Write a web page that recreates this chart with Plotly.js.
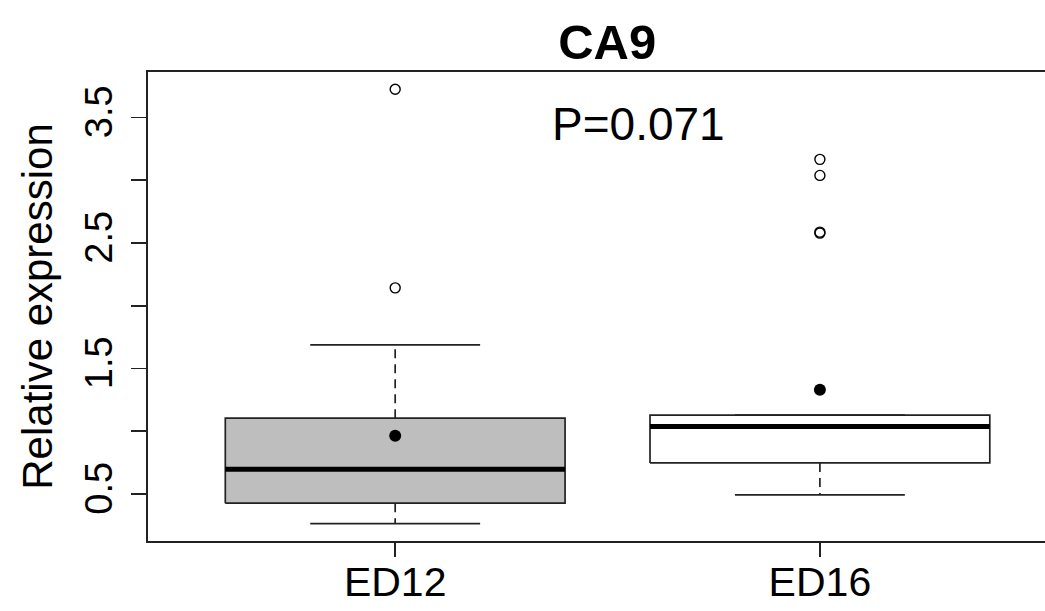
<!DOCTYPE html>
<html>
<head>
<meta charset="utf-8">
<script src="https://cdn.plot.ly/plotly-3.0.1.min.js"></script>
<style>html,body{margin:0;padding:0;background:#fff;}#chart{width:1045px;height:611px;}</style>
</head>
<body>
<div id="chart"></div>
<script>
// ---- data ----
const categories = ['ED12', 'ED16'];
const lowerWhisker = [0.263, 0.492];
const q1 = [0.426, 0.747];
const median = [0.697, 1.037];
const q3 = [1.104, 1.128];
const upperWhisker = [1.687, 1.128];
const means = [0.963, 1.330];
const outliersED12 = [2.142, 3.724];
const outliersED16 = [2.578, 2.586, 3.038, 3.166];
const outliers = [outliersED12, outliersED16];
const boxFill = ['#bebebe', '#ffffff'];
const pValueText = 'P=0.071';
const yTicks = [0.5, 1.0, 1.5, 2.0, 2.5, 3.0, 3.5];
const yTickText = ['0.5', '', '1.5', '', '2.5', '', '3.5'];

// ---- styling constants ----
const FONT = '"Liberation Sans", Arial, sans-serif';
const HALF_BOX = 0.4, HALF_CAP = 0.2;
const traces = [];

categories.forEach((cat, i) => {
  const x = i + 1;
  // box
  traces.push({
    type: 'scatter', mode: 'lines', name: cat + ' box', showlegend: false, hoverinfo: 'skip',
    x: [x - HALF_BOX, x + HALF_BOX, x + HALF_BOX, x - HALF_BOX, x - HALF_BOX],
    y: [q1[i], q1[i], q3[i], q3[i], q1[i]],
    fill: 'toself', fillcolor: boxFill[i],
    line: {color: '#222', width: 1.7}
  });
  // median
  traces.push({
    type: 'scatter', mode: 'lines', showlegend: false, hoverinfo: 'skip',
    x: [x - HALF_BOX, x + HALF_BOX], y: [median[i], median[i]],
    line: {color: '#000', width: 5}
  });
  // whiskers (dashed)
  traces.push({
    type: 'scatter', mode: 'lines', showlegend: false, hoverinfo: 'skip',
    x: [x, x, null, x, x], y: [q3[i], upperWhisker[i], null, q1[i], lowerWhisker[i]],
    line: {color: '#222', width: 1.7, dash: '9px,6px'}
  });
  // caps
  traces.push({
    type: 'scatter', mode: 'lines', showlegend: false, hoverinfo: 'skip',
    x: [x - HALF_CAP, x + HALF_CAP, null, x - HALF_CAP, x + HALF_CAP],
    y: [upperWhisker[i], upperWhisker[i], null, lowerWhisker[i], lowerWhisker[i]],
    line: {color: '#222', width: 1.7}
  });
  // outliers
  traces.push({
    type: 'scatter', mode: 'markers', showlegend: false,
    x: outliers[i].map(() => x), y: outliers[i],
    marker: {symbol: 'circle-open', size: 10, color: '#000', line: {width: 1.4, color: '#000'}}
  });
  // mean
  traces.push({
    type: 'scatter', mode: 'markers', showlegend: false,
    x: [x], y: [means[i]],
    marker: {symbol: 'circle', size: 12, color: '#000'}
  });
});

const layout = {
  width: 1045, height: 611,
  margin: {l: 148, r: 0, t: 72, b: 70, pad: 0},
  paper_bgcolor: '#fff', plot_bgcolor: '#fff',
  showlegend: false,
  font: {family: FONT, color: '#000'},
  title: {
    text: '<b>CA9</b>', font: {family: FONT, size: 49, color: '#000'},
    xref: 'paper', x: 0.512, xanchor: 'center',
    yref: 'container', y: 1 - 42 / 611, yanchor: 'middle'
  },
  xaxis: {
    range: [0.418, 2.53], tickmode: 'array', tickvals: [1, 2], ticktext: categories,
    showgrid: false, zeroline: false, showline: true, mirror: true,
    linecolor: '#222', linewidth: 1.7,
    ticks: 'outside', ticklen: 14, tickwidth: 1.7, tickcolor: '#222',
    tickfont: {family: FONT, size: 41, color: '#000'}, ticklabelstandoff: -10
  },
  yaxis: {
    range: [0.125, 3.862], tickmode: 'array', tickvals: yTicks, ticktext: yTickText,
    showgrid: false, zeroline: false, showline: true, mirror: false,
    linecolor: '#222', linewidth: 1.7,
    ticks: 'outside', ticklen: 15, tickwidth: 1.7, tickcolor: '#222',
    tickangle: -90,
    tickfont: {family: FONT, size: 38, color: '#000'}, ticklabelstandoff: 4,
    title: {text: 'Relative expression', font: {family: FONT, size: 42, color: '#000'}, standoff: 12}
  },
  annotations: [{
    text: pValueText, xref: 'x', yref: 'y', x: 1.574, y: 3.445,
    showarrow: false, xanchor: 'center', yanchor: 'middle',
    font: {family: FONT, size: 46, color: '#000'}
  }]
};

Plotly.newPlot('chart', traces, layout, {displayModeBar: false, staticPlot: true});
</script>
</body>
</html>
